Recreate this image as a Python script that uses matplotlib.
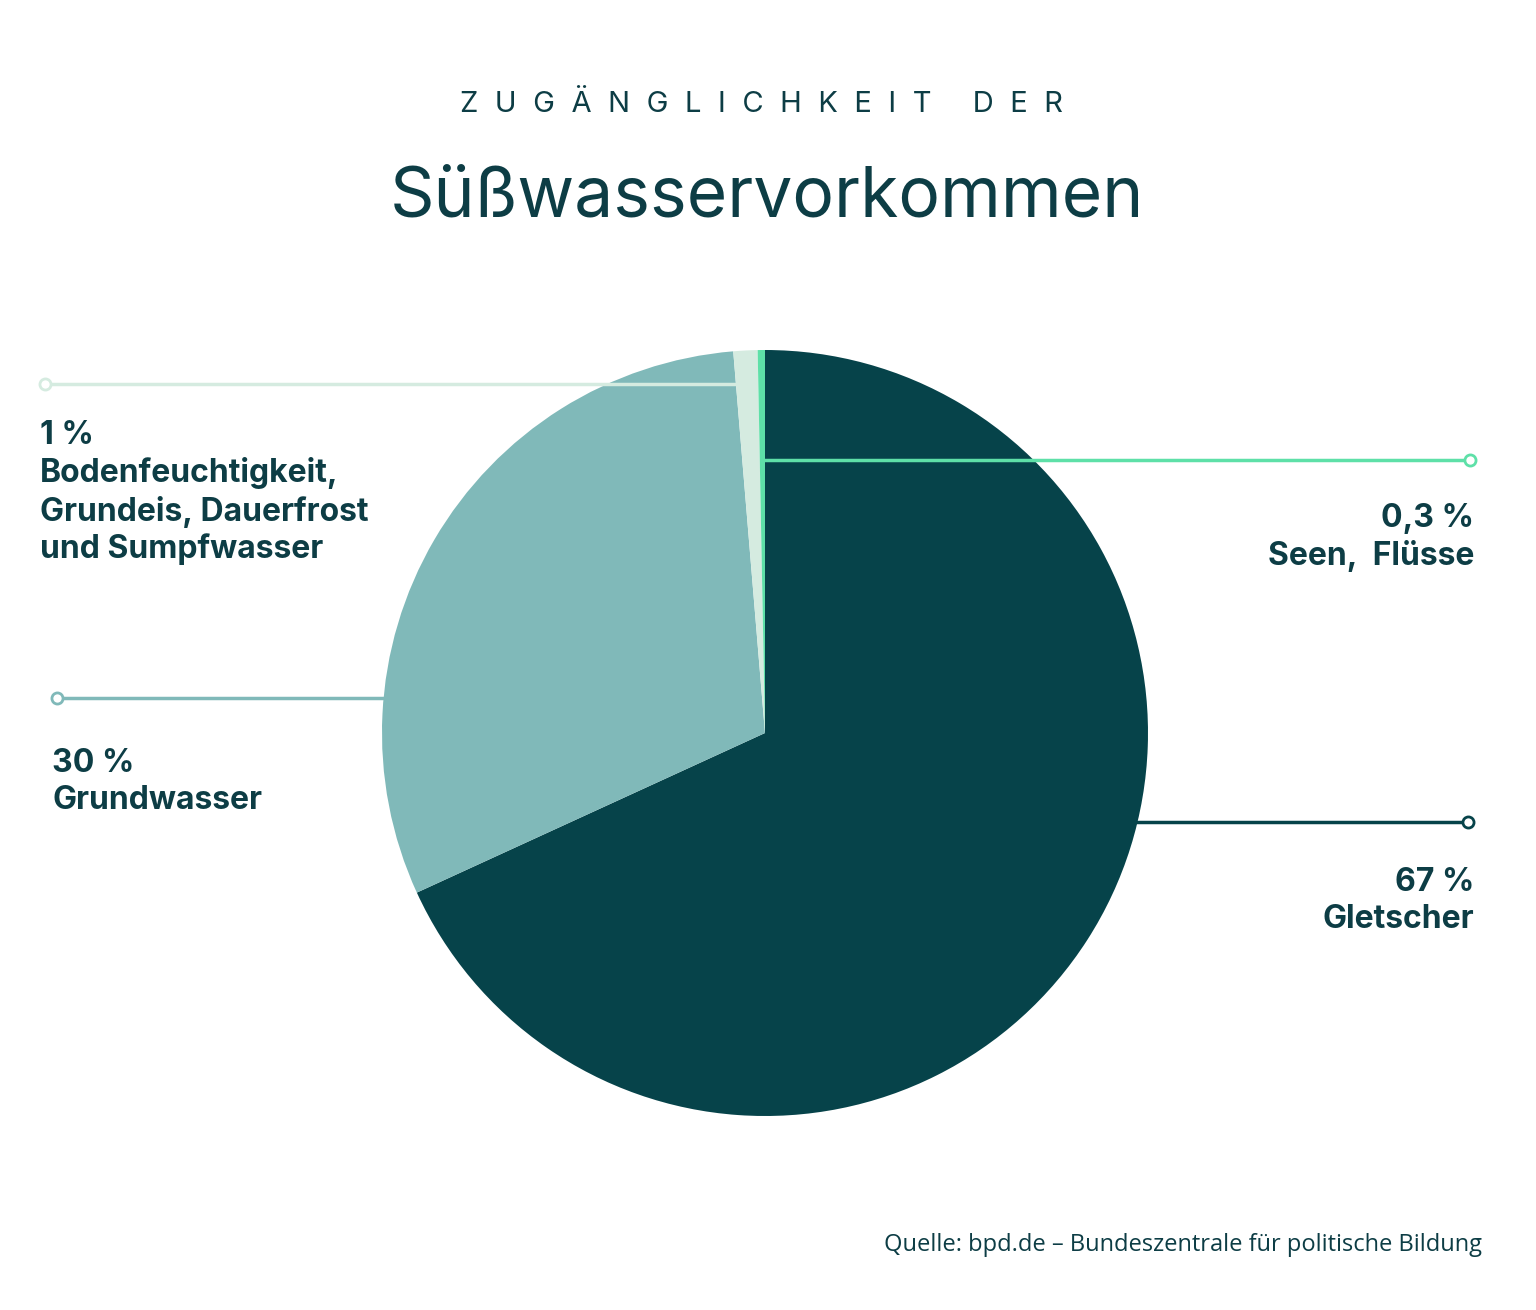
import matplotlib
matplotlib.use("Agg")
import matplotlib.pyplot as plt

categories = ["Gletscher", "Grundwasser", "Bodenfeuchtigkeit, Grundeis, Dauerfrost und Sumpfwasser", "Seen, Flüsse"]
values = [67, 30, 1, 0.3]
colors = ["#06434a", "#80b9b9", "#d5ebe0", "#5ee0a8"]

W, H = 1536, 1310
fig = plt.figure(figsize=(W/100, H/100), dpi=100)
ax = fig.add_axes([0, 0, 1, 1])
ax.set_xlim(0, W); ax.set_ylim(0, H); ax.set_aspect("equal"); ax.axis("off")

def Y(y): return H - y

ax.pie(values, colors=colors, startangle=90, counterclock=False,
       center=(765, Y(733)), radius=383, frame=True,
       wedgeprops=dict(linewidth=0))
ax.set_xlim(0, W); ax.set_ylim(0, H); ax.axis("off")

txt = "#0d3d45"
ax.text(762, Y(105), "  ".join("ZUGÄNGLICHKEIT") + "     " + "  ".join("DER"),
        ha="center", va="center", fontsize=21, color=txt, family="Inter")
ax.text(767, Y(198), "Süßwasservorkommen", ha="center", va="center",
        fontsize=50, color=txt, family="Inter")

def leader(x0, x1, y, col, dotx):
    ax.plot([x0, x1], [Y(y), Y(y)], color=col, lw=2.5, zorder=3)
    ax.plot([dotx], [Y(y)], marker="o", ms=8, mfc="white", mec=col, mew=2, zorder=4)

leader(45, 738, 384, "#d5ebe0", 45)
leader(765, 1470, 460, "#5ee0a8", 1470)
leader(57, 383, 698, "#80b9b9", 57)
leader(1135, 1468, 822, "#06434a", 1468)

lab = dict(fontsize=23, color=txt, family="Inter", fontweight="bold", linespacing=1.25)
ax.text(40, Y(420), "1 %\nBodenfeuchtigkeit,\nGrundeis, Dauerfrost\nund Sumpfwasser", ha="left", va="top", **lab)
ax.text(1474, Y(503), "0,3 %\nSeen,  Flüsse", ha="right", va="top", **lab)
ax.text(52, Y(748), "30 %\nGrundwasser", ha="left", va="top", **lab)
ax.text(1474, Y(867), "67 %\nGletscher", ha="right", va="top", **lab)

ax.text(1482, Y(1245), "Quelle: bpd.de – Bundeszentrale für politische Bildung",
        ha="right", va="center", fontsize=17, color=txt, family="Open Sans")

fig.savefig("out.png", dpi=100, facecolor="white")
